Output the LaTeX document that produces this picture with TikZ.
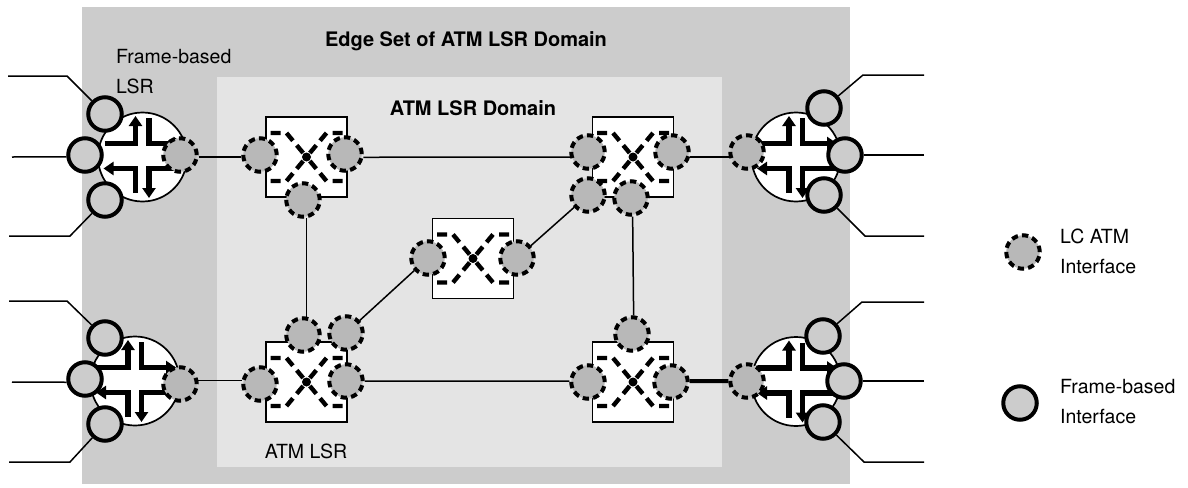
\documentclass[tikz,border=0pt]{standalone}
\usepackage{fontspec}
\setmainfont{TeX Gyre Heros}
\usetikzlibrary{arrows.meta}

\definecolor{edgegray}{gray}{0.80}
\definecolor{domaingray}{gray}{0.895}
\definecolor{lcgray}{gray}{0.72}

\tikzset{
  lcif/.style={circle,draw=black,fill=lcgray,line width=4pt,dash pattern=on 6.3pt off 4.2pt,
    minimum size=33.5pt,inner sep=0pt},
  frameif/.style={circle,draw=black,fill=edgegray,line width=4pt,minimum size=33.5pt,inner sep=0pt},
  link/.style={draw=black,line width=1.5pt},
  lsrarrow/.style={line width=5.5pt,-{Triangle[length=10pt,width=13pt]}},
  swdash/.style={line width=4.4pt,dash pattern=on 10pt off 6pt},
  lbl/.style={font=\fontsize{19.5}{30}\selectfont,inner sep=0pt,align=left},
  lblb/.style={font=\fontsize{20}{24}\selectfont\bfseries,inner sep=0pt},
  router/.pic={
    \draw[fill=white,line width=1.7pt] (0,0) circle (44.5pt);
    \draw[lsrarrow] (-38,-13.5) -- (-7,-13.5) -- (-7,-41);
    \draw[lsrarrow] (6.5,-39) -- (6.5,-13.5) -- (41,-13.5);
    \draw[lsrarrow] (-7,36) -- (-7,11.5) -- (-39,11.5);
    \draw[lsrarrow] (41,11.5) -- (6.5,11.5) -- (6.5,41);
  },
  atmswitch/.pic={
    \draw[fill=white,line width=1.7pt] (-40.5,-40) rectangle (40.5,40);
    \foreach \sx/\sy in {-1/-1,1/-1,-1/1,1/1}
      \draw[swdash] (\sx*36,\sy*24) -- (\sx*20,\sy*24) -- (0,0);
    \fill (0,0) circle (4.5pt);
  }
}

\begin{document}
\begin{tikzpicture}[x=1pt,y=-1pt]
  \useasboundingbox (0,0) rectangle (1188,487);

  % domains
  \fill[edgegray] (82,7) rectangle (850,484);
  \fill[domaingray] (217,77) rectangle (722,467);

  \node[lblb] (edgetitle) at (466,41.5) {Edge Set of ATM LSR Domain};
  \node[lblb] (domtitle) at (473,108) {ATM LSR Domain};
  \node[lbl,anchor=north west] (lsrlabel) at (116,49) {Frame-based\\LSR};
  \node[lbl] (atmlabel) at (306,451) {ATM LSR};

  % routers and switches
  \pic at (142.5,157) {router};
  \pic at (796,157) {router};
  \pic at (135,381) {router};
  \pic at (796,381.5) {router};
  \pic at (306.5,157) {atmswitch};
  \pic at (633,157) {atmswitch};
  \pic at (473,258.5) {atmswitch};
  \pic at (306.5,382) {atmswitch};
  \pic at (633,382) {atmswitch};

  % interfaces
  \foreach \name/\x/\y in {ta/105/114,tb/85/155,tc/105/200,
                           ua/824/108,ub/845/155,uc/824/195,
                           va/105/338,vb/85/379,vc/105/424,
                           wa/823/336,wb/844/381,wc/823/422}
    \node[frameif] (\name) at (\x,\y) {};
  \foreach \name/\x/\y in {rta/180/155,rub/747/152,rvc/180/384,rwd/747/381,
                           aw/260/155,ae/345/154,as/303/200,
                           bw/588/152,be/672/152,bsw/588/195,bs/631/198,
                           cw/428/258,ce/517/258,
                           dw/260/384,de/346/381,dn/303/335,dne/346/333,
                           ew/588/382,ee/671/382,en/632/334}
    \node[lcif] (\name) at (\x,\y) {};

  % free ends of the outside links
  \foreach \name/\x/\y in {p1/8/76,q1/67/76,p2/12/157,p3/9/236,q3/70/236,
                           p4/924/75,q4/863/75,p5/924/155,p6/924/236,q6/865/236,
                           p7/9/301,q7/67/301,p8/12/382,p9/9/462,q9/70/462,
                           p10/924/302,q10/862/302,p11/924/381,p12/924/462,q12/864/462}
    \coordinate (\name) at (\x,\y);

  \draw[link] (p1) -- (q1) -- (ta);
  \draw[link] (p2) -- (tb.186);
  \draw[link] (p3) -- (q3) -- (tc);
  \draw[link] (p4) -- (q4) -- (ua);
  \draw[link] (p5) -- (ub);
  \draw[link] (p6) -- (q6) -- (uc);
  \draw[link] (p7) -- (q7) -- (va);
  \draw[link] (p8) -- (vb.190);
  \draw[link] (p9) -- (q9) -- (vc);
  \draw[link] (p10) -- (q10) -- (wa);
  \draw[link] (p11) -- (wb);
  \draw[link] (p12) -- (q12) -- (wc);

  % links between the nodes
  \draw[link] (rta.-6) -- (aw.186);
  \draw[link] (ae.-10) -- (bw.196);
  \draw[link] (be.-16) -- (rub.196);
  \draw[link] (rvc.10) -- (dw.170);
  \draw[link] (de) -- (ew.177);
  \draw[line width=4pt] (ee.3) -- (rwd);
  \draw[link] (as.-80) -- (dn.80);
  \draw[link] (bs.-85) -- (en.85);
  \draw[link] (dne) -- (cw);
  \draw[link] (ce) -- (bsw);

  % legend
  \node[lcif] (keylc) at (1023,252) {};
  \node[frameif] (keyframe) at (1020,403) {};
  \node[lbl,anchor=north west] (keylctext) at (1060,228.5) {LC ATM\\Interface};
  \node[lbl,anchor=north west] (keyframetext) at (1060,379.5) {Frame-based\\Interface};
\end{tikzpicture}
\end{document}
